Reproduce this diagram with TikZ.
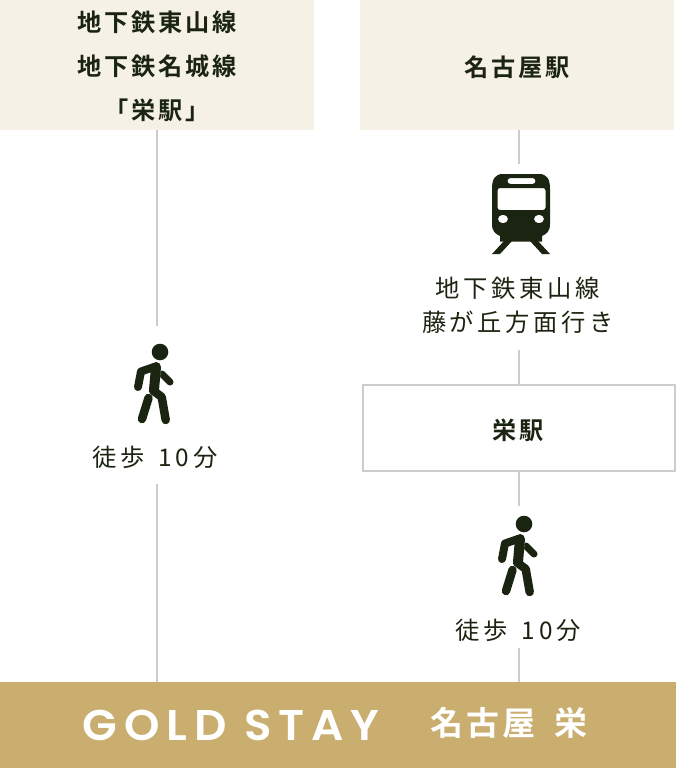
\documentclass[tikz,border=0pt]{standalone}
\usepackage{fontspec}
\setmainfont{Noto Sans CJK JP}[LetterSpace=15]
\newfontfamily\headfont{Noto Sans CJK JP Bold}[LetterSpace=11]
\newfontfamily\bandfont{Noto Sans CJK JP Bold}[LetterSpace=9]
\newfontfamily\logofont{Poppins SemiBold}[LetterSpace=16,FakeStretch=1.05]
\definecolor{gs_cream}{RGB}{246, 241, 230}
\definecolor{gs_gold}{RGB}{201, 174, 112}
\definecolor{gs_line}{RGB}{204, 204, 204}
\definecolor{gs_ink}{RGB}{27, 36, 16}
\tikzstyle{hd}=[rectangle,text=gs_ink,inner sep=0pt,outer sep=0pt,align=center,
  font=\fontsize{24.2}{44}\headfont]
\tikzstyle{st}=[rectangle,draw=gs_line,fill=white,line width=2pt,inner sep=0pt,outer sep=0pt,
  minimum width=312pt,minimum height=86pt]
\tikzstyle{lb}=[text=gs_ink,inner sep=0pt,align=center,font=\fontsize{24.3}{34}\selectfont]
\tikzstyle{cn}=[draw=gs_line,line width=2pt]
\tikzstyle{limb}=[draw=gs_ink,line cap=round,line join=round]
\tikzset{
  walker/.pic={
    \fill [gs_ink] (0,0) circle (8.3);
    \draw [limb,line width=7pt] (2,22) -- (10,30);
    \draw [limb,line width=8.5pt] (-11.5,46) -- (-18,67);
    \draw [draw=white,line width=11.5pt] (-5,17) -- (-7,38);
    \draw [limb,line width=8pt] (-6,15) -- (-19,19.5) -- (-22,35);
    \draw [limb,line width=10pt] (-4,15) -- (-6,38);
    \draw [limb,line width=8.5pt] (-7,38.5) -- (1.7,45) -- (5.7,68);
  },
  railway/.pic={
    \fill [gs_ink,even odd rule] (-29,-45) -- (-29,-10) .. controls (-29,-2) and (-25,0) .. (-21,2)
      -- (-21,7.5) -- (21,7.5) -- (21,2) .. controls (25,0) and (29,-2) .. (29,-10) -- (29,-45)
      .. controls (29,-55) and (26,-60) .. (18,-60) -- (-18,-60) .. controls (-26,-60) and (-29,-55) .. (-29,-45) -- cycle
      [rounded corners=2.5pt] (-23.5,-46) rectangle (24.5,-24)
      [rounded corners=3pt] (-13.5,-56) rectangle (14.5,-50)
      [sharp corners] (-18,-15) ellipse (5 and 4.3) (18,-15) ellipse (5 and 4.3);
    \fill [gs_ink] (-17,7) -- (-9,7) -- (-21,20) -- (-29,20) -- cycle;
    \fill [gs_ink] (9,7) -- (17,7) -- (29,20) -- (21,20) -- cycle;
  },
}
\begin{document}
\begin{tikzpicture}[x=1pt,y=-1pt]
    \useasboundingbox (0,0) rectangle (676,768);
    % header boxes
    \fill [gs_cream] (0,0) rectangle (314,130);
    \fill [gs_cream] (360,0) rectangle (674,130);
    \node [style=hd] (tohkai) at (157,66) {地下鉄東山線\\地下鉄名城線\\「栄駅」};
    \node [style=hd] (nagoya) at (517,67) {名古屋駅};
    \node [style=st] (sakae) at (519,428) {};
    \node [style=hd] (sakaetxt) at (518,430) {栄駅};
    \fill [gs_gold] (0,682) rectangle (676,768);
    \node [inner sep=0pt,text=white,font=\fontsize{43}{43}\logofont] (goldstay) at (231,725) {GOLD STAY};
    \node [inner sep=0pt,text=white,font=\fontsize{33}{33}\bandfont] (branch) at (509,723) {名古屋\hspace{8pt} 栄};
    % labels
    \node [style=lb] (walkl) at (155,457) {徒歩\hspace{5pt} 10分};
    \node [style=lb] (subway) at (518,305.5) {地下鉄東山線\\藤が丘方面行き};
    \node [style=lb] (walkr) at (518,630) {徒歩\hspace{5pt} 10分};
    % icons
    \pic at (160,352) {walker};
    \pic at (524,524) {walker};
    \pic at (521,234) {railway};
    % free ends of the lines
    \coordinate (a0) at (157,130);
    \coordinate (a1) at (157,326);
    \coordinate (a2) at (157,484);
    \coordinate (a3) at (157,682);
    \coordinate (b1) at (519,130);
    \coordinate (b2) at (519,164);
    \coordinate (b3) at (519,350);
    \coordinate (b4) at (519,506);
    \coordinate (b5) at (519,648);
    \coordinate (b6) at (519,682);
    \draw [style=cn] (a0) to (a1);
    \draw [style=cn] (a2) to (a3);
    \draw [style=cn] (b1) to (b2);
    \draw [style=cn] (b3) to (sakae.north);
    \draw [style=cn] (sakae.south) to (b4);
    \draw [style=cn] (b5) to (b6);
\end{tikzpicture}
\end{document}
